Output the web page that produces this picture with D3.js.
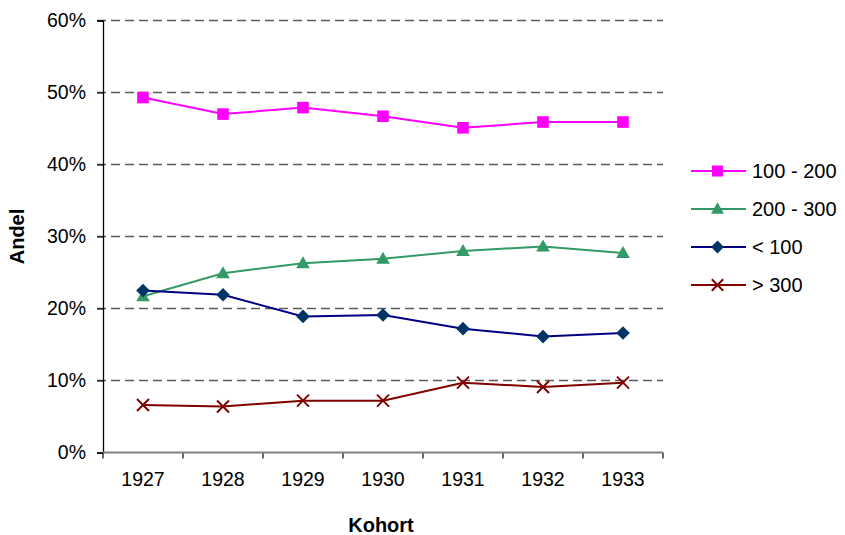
<!DOCTYPE html>
<html>
<head>
<meta charset="utf-8">
<script src="https://cdn.jsdelivr.net/npm/d3@7"></script>
<style>
  body { margin: 0; background: #fff; }
  svg { display: block; font-family: "Liberation Sans", Arial, sans-serif; }
</style>
</head>
<body>
<svg id="chart" width="845" height="535"></svg>
<script>
// Kohort years and share of each group (fraction of 1)
const years = ["1927", "1928", "1929", "1930", "1931", "1932", "1933"];
const share100to200 = [0.493, 0.470, 0.479, 0.467, 0.451, 0.459, 0.459];
const share200to300 = [0.217, 0.249, 0.263, 0.269, 0.280, 0.286, 0.277];
const shareUnder100 = [0.225, 0.219, 0.189, 0.191, 0.172, 0.161, 0.166];
const shareOver300  = [0.066, 0.064, 0.072, 0.072, 0.097, 0.091, 0.097];
const yTicks = [0, 0.1, 0.2, 0.3, 0.4, 0.5, 0.6];

const series = [
  { name: "100 - 200", values: share100to200, line: "#FF00FF", fill: "#FF00FF", marker: "square" },
  { name: "200 - 300", values: share200to300, line: "#339966", fill: "#339966", marker: "triangle" },
  { name: "< 100",     values: shareUnder100, line: "#000080", fill: "#003366", marker: "diamond" },
  { name: "> 300",     values: shareOver300,  line: "#800000", fill: "#800000", marker: "cross" }
];

const svg = d3.select("#chart");
const plot = { left: 103, right: 663, top: 20.5, bottom: 452.5 };

const x = d3.scaleBand().domain(years).range([plot.left, plot.right]);
const y = d3.scaleLinear().domain([0, 0.6]).range([plot.bottom, plot.top]);
const cx = d => x(d) + x.bandwidth() / 2;

// dashed horizontal gridlines
svg.append("g")
  .selectAll("line")
  .data(yTicks.filter(t => t > 0))
  .join("line")
  .attr("x1", plot.left - 6).attr("x2", plot.right)
  .attr("y1", d => y(d)).attr("y2", d => y(d))
  .attr("stroke", "#5a5a5a").attr("stroke-width", 1.3)
  .attr("stroke-dasharray", "9,5");

// y axis
const yAxis = svg.append("g")
  .attr("transform", `translate(${plot.left},0)`)
  .call(d3.axisLeft(y).tickValues(yTicks).tickFormat(d3.format(".0%")).tickSize(6).tickPadding(11));
yAxis.select(".domain").attr("stroke", "#000").attr("stroke-width", 1.3);
yAxis.selectAll(".tick line").attr("stroke", "#000");
yAxis.selectAll(".tick text")
  .attr("font-size", 19.5).attr("fill", "#000")
  .attr("font-family", "'Liberation Sans', Arial, sans-serif");

// x axis: labels centered in each category, tick marks on category boundaries
const xAxis = svg.append("g")
  .attr("transform", `translate(0,${plot.bottom})`)
  .call(d3.axisBottom(x).tickSize(0).tickPadding(20));
xAxis.select(".domain").remove();
xAxis.selectAll(".tick text")
  .attr("font-size", 19.5).attr("fill", "#000")
  .attr("font-family", "'Liberation Sans', Arial, sans-serif");

const boundaries = years.map(d => x(d)).concat([x(years[years.length - 1]) + x.bandwidth()]);
svg.append("g")
  .selectAll("line")
  .data(boundaries)
  .join("line")
  .attr("x1", d => d).attr("x2", d => d)
  .attr("y1", plot.bottom).attr("y2", plot.bottom + 6)
  .attr("stroke", "#000").attr("stroke-width", 1.2);

svg.append("line")
  .attr("x1", plot.left).attr("x2", plot.right)
  .attr("y1", plot.bottom).attr("y2", plot.bottom)
  .attr("stroke", "#808080").attr("stroke-width", 2);

// axis titles
svg.append("text")
  .attr("x", (plot.left + plot.right) / 2 - 2).attr("y", 532)
  .attr("text-anchor", "middle")
  .attr("font-size", 20).attr("font-weight", "bold")
  .text("Kohort");

svg.append("text")
  .attr("transform", `translate(24,${(plot.top + plot.bottom) / 2}) rotate(-90)`)
  .attr("text-anchor", "middle")
  .attr("font-size", 20).attr("font-weight", "bold")
  .text("Andel");

// marker drawing
function drawMarker(g, s, size) {
  const k = size || 1;
  if (s.marker === "square") {
    g.append("rect").attr("x", -5.8 * k).attr("y", -5.8 * k)
      .attr("width", 11.6 * k).attr("height", 11.6 * k).attr("fill", s.fill);
  } else if (s.marker === "triangle") {
    g.append("path").attr("d", `M0,${-7 * k} L${6.8 * k},${5 * k} L${-6.8 * k},${5 * k} Z`).attr("fill", s.fill);
  } else if (s.marker === "diamond") {
    g.append("path").attr("d", `M0,${-6.8 * k} L${6.8 * k},0 L0,${6.8 * k} L${-6.8 * k},0 Z`).attr("fill", s.fill);
  } else if (s.marker === "cross") {
    const r = 6 * k;
    g.append("path").attr("d", `M${-r},${-r} L${r},${r} M${-r},${r} L${r},${-r}`)
      .attr("stroke", s.fill).attr("stroke-width", 2).attr("fill", "none");
  }
}

// series lines and markers
const line = d3.line().x((v, i) => cx(years[i])).y(v => y(v));
const drawOrder = [series[0], series[1], series[2], series[3]];
drawOrder.forEach(s => {
  const g = svg.append("g");
  g.append("path")
    .attr("d", line(s.values))
    .attr("fill", "none").attr("stroke", s.line).attr("stroke-width", 2);
  s.values.forEach((v, i) => {
    const m = g.append("g").attr("transform", `translate(${cx(years[i])},${y(v)})`);
    drawMarker(m, s);
  });
});

// legend
const legend = svg.append("g").attr("transform", "translate(691,171)");
series.forEach((s, i) => {
  const row = legend.append("g").attr("transform", `translate(0,${i * 38})`);
  row.append("line").attr("x1", 0).attr("x2", 55).attr("y1", 0).attr("y2", 0)
    .attr("stroke", s.line).attr("stroke-width", 2);
  const m = row.append("g").attr("transform", "translate(26.5,0)");
  drawMarker(m, s, 0.95);
  row.append("text").attr("x", 61).attr("y", 7)
    .attr("font-size", 20).attr("fill", "#000")
    .text(s.name);
});
</script>
</body>
</html>
